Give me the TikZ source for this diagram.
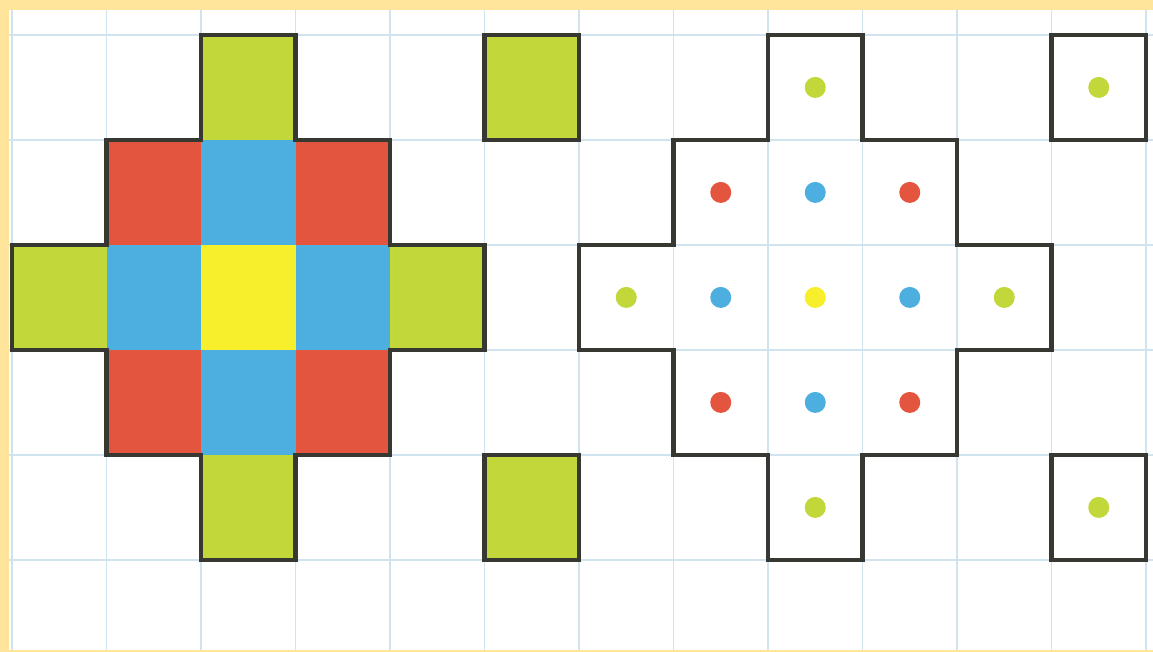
\documentclass[tikz,border=0pt]{standalone}
\usepackage{tikz}
\definecolor{pzgreen}{HTML}{C2D83A}
\definecolor{pzred}{HTML}{E4553F}
\definecolor{pzblue}{HTML}{4DAEE0}
\definecolor{pzyellow}{HTML}{F7EF2C}
\definecolor{pzframe}{HTML}{FFE49C}
\definecolor{pzgrid}{HTML}{CFE4EE}
\definecolor{pzline}{HTML}{383832}

\begin{document}
\begin{tikzpicture}[x=0.945cm,y=1.05cm,
    outline/.style={draw=pzline,line width=1.3pt,line join=miter},
    dot/.style={radius=0.105cm}]
    % frame and paper
    \useasboundingbox (-0.127,-0.876) rectangle (12.074,5.333);
    \fill[pzframe] (-0.127,-0.876) rectangle (12.074,5.333);
    \fill[white] (-0.032,-0.857) rectangle (12.074,5.238);
    % squared paper
    \foreach \i in {0,...,12}
      \draw[pzgrid,line width=0.5pt] (\i,-0.857) -- (\i,5.238);
    \foreach \j in {0,...,5}
      \draw[pzgrid,line width=0.5pt] (-0.032,\j) -- (12.074,\j);
    % coloured cells of the left figure
    \foreach \c/\r/\col in {2/4/pzgreen,1/3/pzred,2/3/pzblue,3/3/pzred,
        0/2/pzgreen,1/2/pzblue,2/2/pzyellow,3/2/pzblue,4/2/pzgreen,
        1/1/pzred,2/1/pzblue,3/1/pzred,2/0/pzgreen}
      \fill[\col] (\c,\r) rectangle ++(1,1);
    % dots of the right figure
    \foreach \c/\r/\col in {2/4/pzgreen,1/3/pzred,2/3/pzblue,3/3/pzred,
        0/2/pzgreen,1/2/pzblue,2/2/pzyellow,3/2/pzblue,4/2/pzgreen,
        1/1/pzred,2/1/pzblue,3/1/pzred,2/0/pzgreen}
      \fill[\col] (\c+6.5,\r+0.5) circle[dot];
    % outlines of both figures
    \foreach \dx in {0,6}
      \draw[outline,shift={(\dx,0)}] (2,5) -- (3,5) -- (3,4) -- (4,4) -- (4,3)
        -- (5,3) -- (5,2) -- (4,2) -- (4,1) -- (3,1) -- (3,0) -- (2,0)
        -- (2,1) -- (1,1) -- (1,2) -- (0,2) -- (0,3) -- (1,3) -- (1,4)
        -- (2,4) -- cycle;
    % single squares
    \foreach \r in {0,4} {
      \filldraw[outline,fill=pzgreen] (5,\r) rectangle ++(1,1);
      \draw[outline] (11,\r) rectangle ++(1,1);
      \fill[pzgreen] (11.5,\r+0.5) circle[dot];
    }
  \end{tikzpicture}
\end{document}
